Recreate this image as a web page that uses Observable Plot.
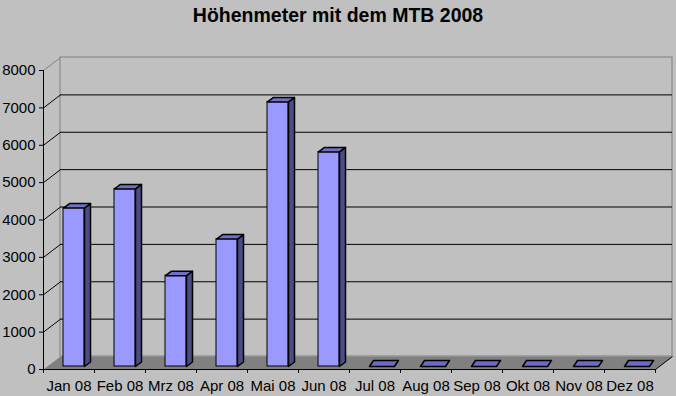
<!DOCTYPE html>
<html>
<head>
<meta charset="utf-8">
<script src="https://cdn.jsdelivr.net/npm/d3@7"></script>
<script src="https://cdn.jsdelivr.net/npm/@observablehq/plot@0.6"></script>
<style>
  html, body { margin: 0; padding: 0; background: #C0C0C0; }
  #title { height: 40px; width: 676px; text-align: center; font: bold 19.5px "Liberation Sans", Arial, sans-serif; line-height: 30px; color: #000; }
  #chart svg { display: block; }
</style>
</head>
<body>
<div id="title">Höhenmeter mit dem MTB 2008</div>
<div id="chart"></div>
<script>
// ---- data ----
const months = ["Jan 08", "Feb 08", "Mrz 08", "Apr 08", "Mai 08", "Jun 08",
                "Jul 08", "Aug 08", "Sep 08", "Okt 08", "Nov 08", "Dez 08"];
const values = [4240, 4750, 2430, 3410, 7080, 5740, 0, 0, 0, 0, 0, 0];
const yTicks = [0, 1000, 2000, 3000, 4000, 5000, 6000, 7000, 8000];

// ---- layout (pixels) ----
const W = 676, H = 356;
const mL = 43, mR = 21, mT = 30, mB = 27;
const pxX = (W - mL - mR) / months.length;     // px per x unit
const pxY = (H - mT - mB) / 8000;              // px per y unit
const ux = p => p / pxX;                       // px -> x data units
const uy = p => p / pxY;                       // px -> y data units
const DX = ux(17), DY = uy(13);                // depth of the 3D box
const B0 = ux(20), B1 = ux(41);                // bar front face span within slot
const LIFT = uy(3);                            // bar base lift
const FX = ux(6), FY = uy(4.5);                // bar depth

const bars = months.map((m, i) => ({ m, i, v: values[i] }));
const tall = bars.filter(d => d.v > 0);
const flat = bars.filter(d => d.v === 0);

// polygons
const poly = [];
tall.forEach(d => {
  const x1 = d.i + B0, x2 = d.i + B1, yb = LIFT, yt = LIFT + d.v;
  poly.push({ id: "s" + d.i, face: "side", x: x2, y: yb },
            { id: "s" + d.i, face: "side", x: x2 + FX, y: yb + FY },
            { id: "s" + d.i, face: "side", x: x2 + FX, y: yt + FY },
            { id: "s" + d.i, face: "side", x: x2, y: yt });
  poly.push({ id: "t" + d.i, face: "top", x: x1, y: yt },
            { id: "t" + d.i, face: "top", x: x1 + FX, y: yt + FY },
            { id: "t" + d.i, face: "top", x: x2 + FX, y: yt + FY },
            { id: "t" + d.i, face: "top", x: x2, y: yt });
});
flat.forEach(d => {
  const x1 = d.i + B0, x2 = d.i + ux(45), yb = LIFT, fx = ux(4), fy = uy(6);
  poly.push({ id: "f" + d.i, face: "flat", x: x1, y: yb },
            { id: "f" + d.i, face: "flat", x: x1 + fx, y: yb + fy },
            { id: "f" + d.i, face: "flat", x: x2 + fx, y: yb + fy },
            { id: "f" + d.i, face: "flat", x: x2, y: yb });
});
const floor = [
  { x: 0, y: 0 }, { x: DX, y: DY }, { x: 12 + DX, y: DY }, { x: 12, y: 0 }
];

const chart = Plot.plot({
  width: W, height: H,
  marginLeft: mL, marginRight: mR, marginTop: mT, marginBottom: mB,
  style: { background: "#C0C0C0", color: "#000", fontFamily: "'Liberation Sans', Arial, sans-serif", fontSize: "15px", overflow: "visible" },
  x: { type: "linear", domain: [0, 12] },
  y: { type: "linear", domain: [0, 8000] },
  marks: [
    // floor
    Plot.line(floor, { x: "x", y: "y", fill: "#808080", stroke: "none", curve: "linear-closed" }),
    // back wall frame
    Plot.rect([0], { x1: DX, x2: 12 + DX, y1: DY, y2: 8000 + DY, fill: "none", stroke: "#808080" }),
    // gridlines on back wall
    Plot.ruleY(yTicks.filter(t => t > 0 && t < 8000), { y: t => t + DY, x1: DX, x2: 12 + DX, stroke: "#000" }),
    // depth links from axis to wall
    Plot.link(yTicks.filter(t => t > 0), { x1: 0, y1: t => t, x2: DX, y2: t => t + DY, stroke: t => t === 8000 ? "#808080" : "#000" }),
    Plot.link([0], { x1: 12, y1: 0, x2: 12 + DX, y2: DY, stroke: "#000" }),
    // axis lines
    Plot.ruleX([0], { y1: 0, y2: 8000, stroke: "#000" }),
    Plot.ruleY([0], { x1: 0, x2: 12, stroke: "#000" }),
    // bars
    Plot.rect(tall, { x1: d => d.i + B0, x2: d => d.i + B1, y1: LIFT, y2: d => LIFT + d.v, fill: "#9999FF", stroke: "#000" }),
    Plot.line(poly.filter(p => p.face === "side"), { x: "x", y: "y", z: "id", fill: "#4D4D85", stroke: "#000", curve: "linear-closed" }),
    Plot.line(poly.filter(p => p.face === "top"), { x: "x", y: "y", z: "id", fill: "#7070C4", stroke: "#000", curve: "linear-closed" }),
    Plot.line(poly.filter(p => p.face === "flat"), { x: "x", y: "y", z: "id", fill: "#6A6AC8", stroke: "#000", curve: "linear-closed" }),
    // axes
    Plot.axisY(yTicks, { tickSize: 4, tickPadding: 4, tickFormat: d => String(d), stroke: "#000", label: null }),
    Plot.axisX(d3.range(13), { tickSize: 4, tickFormat: () => "", stroke: "#000", label: null }),
    Plot.axisX(bars.map(d => d.i + 0.5), { tickSize: 0, tickPadding: 11, tickFormat: d => months[Math.floor(d)], label: null })
  ]
});
document.getElementById("chart").appendChild(chart);
</script>
</body>
</html>
